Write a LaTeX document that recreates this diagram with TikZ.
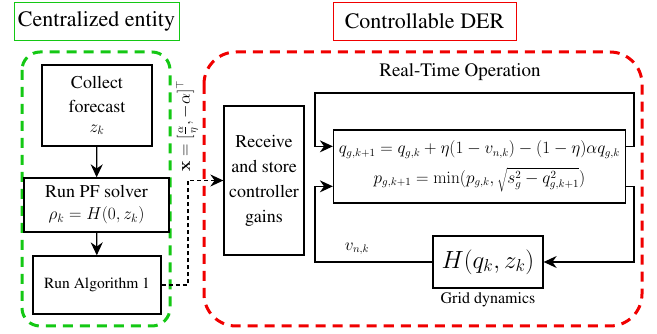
\documentclass[tikz,border=0pt]{standalone}
\usepackage[T1]{fontenc}
\usepackage{times}
\usetikzlibrary{arrows.meta,calc}
\definecolor{ggreen}{RGB}{20,200,20}
\definecolor{rred}{RGB}{240,0,0}
\begin{document}
\begin{tikzpicture}[x=1pt,y=-1pt,
  box/.style={draw=black,line width=1.3pt,inner sep=0pt,align=center,font=\rmfamily\fontsize{18}{24}\selectfont},
  conn/.style={line width=1.3pt,-{Stealth[length=13pt,width=12pt]}},
  dconn/.style={line width=1.1pt,dash pattern=on 4pt off 3pt,-{Stealth[length=13pt,width=12pt]}},
  title/.style={inner sep=0pt,line width=0.9pt,font=\rmfamily\fontsize{22}{26}\selectfont},
  region/.style={line width=3pt,dash pattern=on 10pt off 7pt}]
\useasboundingbox (0,0) rectangle (657,334);
% title boxes
\node[title,draw=ggreen,minimum width=165pt,minimum height=38pt] (tc) at (96.5,21) {Centralized entity};
\node[title,draw=rred,minimum width=183pt,minimum height=38pt] (td) at (424.5,21) {Controllable DER};
% regions
\draw[region,draw=ggreen,rounded corners=18pt] (22,52) rectangle (170,326);
\draw[region,draw=rred,rounded corners=32pt] (204,52) rectangle (642,326);
% left boxes
\node[box,minimum width=110pt,minimum height=81pt] (col) at (97,105.5) {Collect\\forecast\\[-4pt]$z_k$};
\node[box,minimum width=145pt,minimum height=54pt] (pf) at (96.5,205) {Run PF solver\\[-2pt]$\rho_k=H(0,z_k)$};
\node[box,minimum width=128pt,minimum height=58pt,font=\rmfamily\fontsize{15.5}{18}\selectfont] (alg) at (97,285) {Run Algorithm 1};
\draw[conn] (col) -- (pf);
\draw[conn] (pf) -- (alg);
% receive box
\node[box,minimum width=80pt,minimum height=149pt,font=\rmfamily\fontsize{18}{25}\selectfont] (rcv) at (264,180.5) {Receive\\and store\\controller\\gains};
\coordinate (dk) at (188,285);
\draw[dconn] (alg.east) -- (dk) |- (rcv.west);
\node[rotate=90,inner sep=0pt,font=\fontsize{16}{18}\selectfont] (lbl) at (187,126) {$\mathbf{x}=[\frac{\alpha}{\eta},-\alpha]^\top$};
% real-time operation
\node[inner sep=0pt,font=\rmfamily\fontsize{19}{22}\selectfont] (rt) at (460,72) {Real-Time Operation};
\node[box,minimum width=292pt,minimum height=73pt,font=\fontsize{16}{19}\selectfont] (eq) at (479.5,166.5)
  {$q_{g,k+1}=q_{g,k}+\eta(1-v_{n,k})-(1-\eta)\alpha q_{g,k}$\\[8pt]
   $p_{g,k+1}=\min(p_{g,k},\sqrt{s_g^2-q_{g,k+1}^2})$};
\node[box,minimum width=110pt,minimum height=52pt,font=\fontsize{26}{30}\selectfont] (H) at (488,262) {$H(q_k,z_k)$};
\node[inner sep=0pt,font=\rmfamily\fontsize{16}{18}\selectfont] (gd) at (488,300) {Grid dynamics};
% loops
\coordinate (eo1) at ($(eq.north east)+(0,17)$);
\coordinate (ei1) at ($(eq.north west)+(0,17)$);
\coordinate (eo2) at ($(eq.north east)+(0,57)$);
\coordinate (ei2) at ($(eq.north west)+(0,57)$);
\coordinate (tr) at (634,93);
\coordinate (tl) at (315,93);
\coordinate (bl) at (315,262);
\coordinate (br) at (634,262);
\draw[conn] (eo1) -| (tr) -| (tl) |- (ei1);
\draw[conn] (eo2) -| (br) -- (H.east);
\draw[conn] (H.west) -- (bl) |- (ei2);
\node[inner sep=0pt,font=\fontsize{16}{18}\selectfont] (v) at (357,249) {$v_{n,k}$};
\end{tikzpicture}
\end{document}
